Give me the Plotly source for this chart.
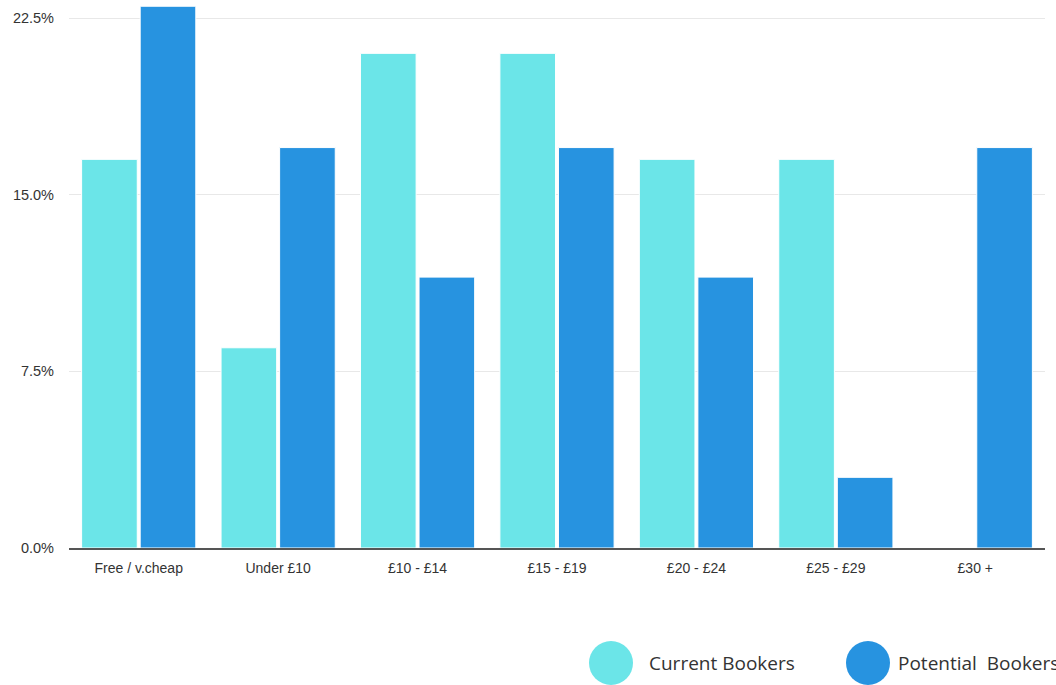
import plotly.graph_objects as go

categories = ["Free / v.cheap", "Under £10", "£10 - £14", "£15 - £19", "£20 - £24", "£25 - £29", "£30 +"]
current_bookers = [16.5, 8.5, 21.0, 21.0, 16.5, 16.5, 0.0]
potential_bookers = [23.0, 17.0, 11.5, 17.0, 11.5, 3.0, 17.0]
y_ticks = [0, 7.5, 15, 22.5]
y_tick_labels = ["0.0%", "7.5%", "15.0%", "22.5%"]
series_names = ["Current Bookers", "Potential  Bookers"]
colors = ["#6be5e8", "#2793e0"]

fig = go.Figure()
for name, vals, col in zip(series_names, [current_bookers, potential_bookers], colors):
    fig.add_trace(go.Bar(x=categories, y=vals, name=name,
                         marker=dict(color=col, line=dict(color="white", width=1)),
                         showlegend=False))

L, R, T, B = 69, 11, 2, 137
W, H = 1056, 685
pw, ph = W - L - R, H - T - B

def px_x(x):
    return (x - L) / pw

def px_y(y):
    return (H - B - y) / ph

shapes = []
annotations = []
legend_items = [(611, 647), (868, 896)]
for (cx, tx), name, col in zip(legend_items, series_names, colors):
    shapes.append(dict(type="circle", xref="paper", yref="paper",
                       xsizemode="pixel", ysizemode="pixel",
                       xanchor=px_x(cx), yanchor=px_y(663),
                       x0=-22, x1=22, y0=-22, y1=22,
                       fillcolor=col, line=dict(width=0)))
    annotations.append(dict(xref="paper", yref="paper", x=px_x(tx), y=px_y(663),
                            xanchor="left", yanchor="middle", text=name, showarrow=False,
                            font=dict(family="Open Sans", size=19, color="#333333")))

fig.update_layout(
    width=W, height=H,
    margin=dict(l=L, r=R, t=T, b=B),
    paper_bgcolor="white", plot_bgcolor="white",
    barmode="group", bargap=0.16, bargroupgap=0.05,
    font=dict(family="Liberation Sans, Arial", size=12, color="#333333"),
    shapes=shapes, annotations=annotations,
    xaxis=dict(showline=True, linecolor="#555555", linewidth=1.5, ticks="",
               tickfont=dict(size=14, color="#333333"), showgrid=False,
               ticklabelstandoff=6),
    yaxis=dict(range=[0, 23.18], tickmode="array", tickvals=y_ticks, ticktext=y_tick_labels,
               showgrid=True, gridcolor="#e8e8e8", gridwidth=1, zeroline=False,
               tickfont=dict(size=14.5, color="#333333"), ticks="", ticklen=0,
               ticklabelstandoff=14),
)

fig.write_html("out.html", config={"displayModeBar": False},
               post_script="document.body.style.margin='0';document.body.style.overflow='hidden';")
